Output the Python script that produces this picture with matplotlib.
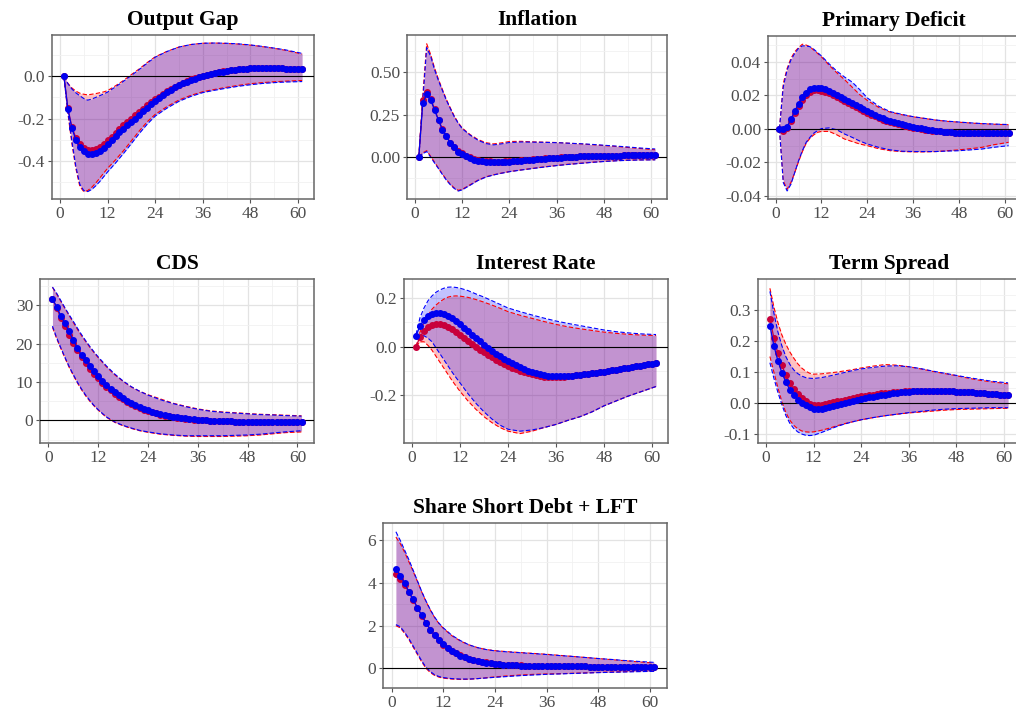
import matplotlib
matplotlib.use("Agg")
import matplotlib.pyplot as plt
from matplotlib.ticker import FixedLocator

plt.rcParams['font.family'] = ['Liberation Serif', 'DejaVu Serif']
plt.rcParams['axes.unicode_minus'] = False

months = list(range(1, 62))
band_months = [1, 2, 3, 4, 5, 6, 7, 8, 9, 10, 11, 12, 14, 16, 18, 20, 22, 24,
               27, 30, 33, 36, 39, 42, 45, 48, 51, 54, 57, 61]

# ---- Output Gap
gap_blue = [0, -0.155, -0.245, -0.300, -0.335, -0.355, -0.366, -0.367, -0.362, -0.352,
            -0.338, -0.318, -0.300, -0.282, -0.264, -0.247, -0.232, -0.218, -0.200, -0.183,
            -0.166, -0.149, -0.132, -0.116, -0.102, -0.089, -0.076, -0.064, -0.053, -0.043,
            -0.034, -0.026, -0.018, -0.011, -0.005, 0.000, 0.005, 0.010, 0.014, 0.018,
            0.022, 0.025, 0.028, 0.031, 0.033, 0.035, 0.036, 0.037, 0.038, 0.038,
            0.038, 0.038, 0.038, 0.037, 0.037, 0.037, 0.036, 0.036, 0.035, 0.035, 0.035]
gap_red = [0, -0.150, -0.240, -0.290, -0.320, -0.340, -0.350, -0.350, -0.345, -0.335,
           -0.320, -0.303, -0.285, -0.267, -0.249, -0.232, -0.216, -0.201, -0.185, -0.169,
           -0.153, -0.138, -0.123, -0.109, -0.096, -0.083, -0.071, -0.059, -0.049, -0.039,
           -0.030, -0.022, -0.014, -0.008, -0.002, 0.003, 0.008, 0.012, 0.016, 0.020,
           0.023, 0.026, 0.029, 0.031, 0.033, 0.035, 0.036, 0.037, 0.038, 0.038,
           0.038, 0.038, 0.038, 0.037, 0.037, 0.037, 0.036, 0.036, 0.035, 0.035, 0.035]
gap_red_hi = [0, -0.033, -0.055, -0.070, -0.080, -0.085, -0.088, -0.085, -0.082, -0.078,
              -0.074, -0.068, -0.045, -0.020, 0.008, 0.035, 0.065, 0.092, 0.118, 0.138,
              0.150, 0.156, 0.157, 0.155, 0.152, 0.147, 0.140, 0.132, 0.122, 0.105]
gap_blue_hi = [0, -0.035, -0.060, -0.078, -0.092, -0.105, -0.113, -0.108, -0.100, -0.092,
               -0.084, -0.075, -0.050, -0.024, 0.004, 0.032, 0.062, 0.090, 0.117, 0.138,
               0.150, 0.156, 0.157, 0.156, 0.153, 0.148, 0.141, 0.133, 0.124, 0.108]
gap_red_lo = [0, -0.175, -0.317, -0.435, -0.520, -0.545, -0.540, -0.525, -0.505, -0.482,
              -0.458, -0.435, -0.395, -0.352, -0.305, -0.258, -0.215, -0.180, -0.143, -0.112,
              -0.090, -0.073, -0.062, -0.052, -0.043, -0.035, -0.030, -0.026, -0.023, -0.020]
gap_blue_lo = [0, -0.165, -0.305, -0.425, -0.510, -0.540, -0.545, -0.535, -0.518, -0.498,
               -0.475, -0.452, -0.410, -0.365, -0.318, -0.270, -0.226, -0.188, -0.150, -0.118,
               -0.095, -0.077, -0.066, -0.056, -0.047, -0.040, -0.034, -0.030, -0.027, -0.025]

# ---- Inflation
inf_blue = [0, 0.318, 0.370, 0.337, 0.278, 0.216, 0.161, 0.122, 0.082, 0.057,
            0.033, 0.020, 0.004, -0.006, -0.016, -0.022, -0.025, -0.027, -0.029, -0.031,
            -0.031, -0.031, -0.029, -0.027, -0.025, -0.023, -0.021, -0.019, -0.018, -0.016,
            -0.014, -0.012, -0.010, -0.008, -0.006, -0.004, -0.003, -0.001, 0.000, 0.001,
            0.003, 0.004, 0.005, 0.006, 0.006, 0.007, 0.007, 0.008, 0.008, 0.009,
            0.009, 0.009, 0.010, 0.010, 0.010, 0.011, 0.011, 0.011, 0.012, 0.012, 0.012]
inf_red = [0, 0.335, 0.382, 0.345, 0.283, 0.220, 0.165, 0.125, 0.086, 0.060,
           0.037, 0.023, 0.008, -0.002, -0.011, -0.017, -0.021, -0.023, -0.025, -0.026,
           -0.026, -0.026, -0.025, -0.024, -0.022, -0.020, -0.018, -0.016, -0.015, -0.013,
           -0.011, -0.009, -0.008, -0.006, -0.005, -0.003, -0.002, -0.001, 0.000, 0.001,
           0.003, 0.004, 0.005, 0.006, 0.006, 0.007, 0.007, 0.008, 0.008, 0.009,
           0.009, 0.009, 0.010, 0.010, 0.010, 0.011, 0.011, 0.011, 0.012, 0.012, 0.012]
inf_red_hi = [0, 0.360, 0.668, 0.605, 0.525, 0.458, 0.398, 0.340, 0.290, 0.242,
              0.203, 0.172, 0.133, 0.104, 0.085, 0.078, 0.084, 0.092, 0.093, 0.090,
              0.088, 0.086, 0.082, 0.078, 0.073, 0.068, 0.063, 0.057, 0.051, 0.043]
inf_blue_hi = [0, 0.330, 0.645, 0.595, 0.515, 0.450, 0.392, 0.335, 0.286, 0.238,
               0.200, 0.168, 0.130, 0.100, 0.080, 0.072, 0.078, 0.086, 0.089, 0.088,
               0.087, 0.085, 0.082, 0.079, 0.075, 0.070, 0.065, 0.060, 0.054, 0.048]
inf_red_lo = [0, 0.025, 0.038, 0.005, -0.030, -0.065, -0.100, -0.133, -0.160, -0.182,
              -0.196, -0.190, -0.163, -0.136, -0.116, -0.104, -0.094, -0.085, -0.075, -0.066,
              -0.057, -0.049, -0.042, -0.036, -0.030, -0.025, -0.021, -0.018, -0.016, -0.015]
inf_blue_lo = [0, 0.020, 0.033, 0.000, -0.035, -0.068, -0.103, -0.136, -0.163, -0.185,
               -0.200, -0.193, -0.166, -0.138, -0.118, -0.105, -0.095, -0.086, -0.076, -0.067,
               -0.058, -0.050, -0.043, -0.037, -0.031, -0.026, -0.022, -0.019, -0.017, -0.016]

# ---- Primary Deficit
def_blue = [0, 0, 0.0014, 0.0057, 0.0107, 0.0149, 0.0188, 0.0216, 0.0236, 0.0244,
            0.0246, 0.0242, 0.0236, 0.0226, 0.0214, 0.0202, 0.0190, 0.0178, 0.0165, 0.0152,
            0.0140, 0.0129, 0.0118, 0.0107, 0.0095, 0.0084, 0.0073, 0.0064, 0.0056, 0.0048,
            0.0041, 0.0034, 0.0028, 0.0022, 0.0017, 0.0012, 0.0007, 0.0003, -0.0002, -0.0005,
            -0.0009, -0.0012, -0.0014, -0.0016, -0.0018, -0.0020, -0.0022, -0.0024, -0.0025, -0.0025,
            -0.0026, -0.0026, -0.0026, -0.0026, -0.0026, -0.0026, -0.0026, -0.0026, -0.0026, -0.0026, -0.0026]
def_red = [0, -0.0012, 0.0008, 0.0050, 0.0095, 0.0135, 0.0175, 0.0205, 0.0222, 0.0230,
           0.0232, 0.0229, 0.0223, 0.0214, 0.0202, 0.0190, 0.0178, 0.0166, 0.0153, 0.0140,
           0.0128, 0.0117, 0.0106, 0.0096, 0.0085, 0.0075, 0.0065, 0.0056, 0.0048, 0.0041,
           0.0034, 0.0028, 0.0022, 0.0017, 0.0012, 0.0008, 0.0004, 0.0000, -0.0004, -0.0007,
           -0.0010, -0.0012, -0.0014, -0.0016, -0.0018, -0.0020, -0.0022, -0.0024, -0.0025, -0.0025,
           -0.0026, -0.0026, -0.0026, -0.0026, -0.0026, -0.0026, -0.0026, -0.0026, -0.0026, -0.0026, -0.0026]
def_red_hi = [0, 0.027, 0.036, 0.042, 0.046, 0.0485, 0.0505, 0.050, 0.049, 0.047,
              0.045, 0.043, 0.038, 0.0335, 0.0295, 0.025, 0.0205, 0.017, 0.0128, 0.010,
              0.0085, 0.0072, 0.0062, 0.0052, 0.0045, 0.0040, 0.0035, 0.0031, 0.0028, 0.0025]
def_blue_hi = [0, 0.025, 0.035, 0.041, 0.045, 0.048, 0.0495, 0.0495, 0.049, 0.0475,
               0.0455, 0.0435, 0.0388, 0.0345, 0.031, 0.028, 0.0235, 0.0185, 0.0135, 0.0103,
               0.0087, 0.0073, 0.0063, 0.0053, 0.0046, 0.0041, 0.0036, 0.0032, 0.0029, 0.0026]
def_red_lo = [0, -0.031, -0.036, -0.032, -0.026, -0.0195, -0.0135, -0.0085, -0.0055, -0.0035,
              -0.002, -0.0015, -0.0015, -0.0035, -0.006, -0.0075, -0.009, -0.010, -0.0118, -0.013,
              -0.0135, -0.0137, -0.0137, -0.0135, -0.013, -0.0125, -0.0118, -0.011, -0.0095, -0.008]
def_blue_lo = [0, -0.032, -0.037, -0.033, -0.026, -0.019, -0.013, -0.008, -0.005, -0.0025,
               -0.001, 0.0002, 0.0006, -0.0005, -0.003, -0.005, -0.0072, -0.009, -0.011, -0.0125,
               -0.0133, -0.0135, -0.0135, -0.0135, -0.0132, -0.013, -0.0125, -0.012, -0.011, -0.010]

# ---- CDS
cds_blue = [31.7, 29.7, 27.3, 25.4, 23.2, 21.0, 18.9, 17.1, 15.7, 14.1,
            12.8, 11.5, 10.3, 9.2, 8.3, 7.4, 6.6, 5.8, 5.1, 4.5,
            4.0, 3.5, 3.0, 2.6, 2.3, 2.0, 1.65, 1.4, 1.2, 0.96,
            0.8, 0.65, 0.5, 0.38, 0.27, 0.17, 0.1, 0.03, -0.03, -0.1,
            -0.14, -0.18, -0.21, -0.26, -0.29, -0.31, -0.33, -0.35, -0.36, -0.36,
            -0.37, -0.37, -0.37, -0.37, -0.37, -0.37, -0.36, -0.36, -0.36, -0.35, -0.35]
cds_red = [31.8, 29.3, 26.8, 24.7, 22.4, 20.3, 18.3, 16.5, 15.0, 13.5,
           12.2, 11.0, 9.8, 8.8, 7.9, 7.0, 6.2, 5.5, 4.8, 4.2,
           3.7, 3.2, 2.8, 2.4, 2.1, 1.8, 1.5, 1.25, 1.05, 0.85,
           0.7, 0.55, 0.42, 0.3, 0.2, 0.1, 0.05, 0.0, -0.05, -0.1,
           -0.14, -0.18, -0.21, -0.26, -0.29, -0.31, -0.33, -0.35, -0.36, -0.36,
           -0.37, -0.37, -0.37, -0.37, -0.37, -0.37, -0.36, -0.36, -0.36, -0.35, -0.35]
cds_red_hi = [34.7, 33.0, 31.1, 29.2, 27.4, 25.6, 23.8, 22.1, 20.6, 19.1,
              17.7, 16.4, 14.0, 11.9, 10.2, 8.7, 7.6, 6.7, 5.6, 4.5,
              3.7, 3.0, 2.5, 2.2, 2.0, 1.8, 1.6, 1.5, 1.35, 1.2]
cds_blue_hi = [34.8, 33.2, 31.3, 29.4, 27.6, 25.9, 24.1, 22.4, 20.8, 19.3,
               17.9, 16.6, 14.2, 12.1, 10.3, 8.8, 7.6, 6.6, 5.4, 4.4,
               3.6, 2.9, 2.4, 2.1, 1.9, 1.7, 1.5, 1.4, 1.25, 1.1]
cds_red_lo = [24.3, 21.4, 18.8, 16.3, 13.9, 11.8, 9.8, 8.0, 6.4, 5.0,
              3.8, 2.7, 0.8, -0.5, -1.4, -2.1, -2.7, -3.1, -3.6, -3.9,
              -4.1, -4.2, -4.2, -4.2, -4.1, -4.0, -3.8, -3.5, -3.2, -3.0]
cds_blue_lo = [24.6, 21.6, 19.0, 16.5, 14.1, 12.0, 10.0, 8.2, 6.6, 5.2,
               3.9, 2.8, 0.9, -0.4, -1.3, -2.0, -2.6, -3.0, -3.5, -3.8,
               -4.0, -4.0, -4.0, -4.0, -3.9, -3.8, -3.6, -3.3, -3.0, -2.7]

# ---- Interest Rate
ir_blue = [0.045, 0.086, 0.110, 0.125, 0.135, 0.140, 0.140, 0.135, 0.127, 0.117,
           0.105, 0.092, 0.078, 0.064, 0.050, 0.036, 0.022, 0.008, -0.005, -0.018,
           -0.029, -0.040, -0.050, -0.060, -0.069, -0.077, -0.085, -0.092, -0.099, -0.105,
           -0.110, -0.114, -0.118, -0.120, -0.122, -0.123, -0.123, -0.123, -0.122, -0.121,
           -0.119, -0.117, -0.115, -0.113, -0.110, -0.108, -0.105, -0.103, -0.100, -0.098,
           -0.095, -0.092, -0.090, -0.087, -0.084, -0.082, -0.079, -0.076, -0.073, -0.071, -0.068]
ir_red = [0.0, 0.040, 0.065, 0.080, 0.090, 0.095, 0.095, 0.090, 0.082, 0.072,
          0.060, 0.048, 0.035, 0.022, 0.010, -0.002, -0.013, -0.024, -0.035, -0.045,
          -0.054, -0.063, -0.072, -0.080, -0.087, -0.094, -0.100, -0.105, -0.110, -0.115,
          -0.118, -0.121, -0.124, -0.125, -0.126, -0.126, -0.125, -0.124, -0.123, -0.121,
          -0.119, -0.117, -0.115, -0.113, -0.110, -0.108, -0.105, -0.103, -0.100, -0.098,
          -0.095, -0.092, -0.090, -0.087, -0.084, -0.082, -0.079, -0.076, -0.073, -0.071, -0.068]
ir_red_hi = [0.0, 0.060, 0.100, 0.130, 0.155, 0.172, 0.186, 0.197, 0.205, 0.209,
             0.210, 0.209, 0.204, 0.195, 0.184, 0.172, 0.159, 0.145, 0.130, 0.117,
             0.104, 0.092, 0.082, 0.074, 0.067, 0.060, 0.055, 0.051, 0.048, 0.046]
ir_blue_hi = [0.050, 0.120, 0.160, 0.190, 0.210, 0.225, 0.235, 0.242, 0.246, 0.247,
              0.245, 0.242, 0.232, 0.218, 0.205, 0.190, 0.175, 0.160, 0.145, 0.131,
              0.118, 0.106, 0.096, 0.087, 0.078, 0.069, 0.062, 0.057, 0.053, 0.050]
ir_red_lo = [0.0, 0.020, 0.020, 0.005, -0.015, -0.040, -0.065, -0.090, -0.115, -0.140,
             -0.163, -0.185, -0.225, -0.260, -0.290, -0.315, -0.335, -0.350, -0.360, -0.350,
             -0.335, -0.322, -0.305, -0.290, -0.270, -0.245, -0.225, -0.205, -0.188, -0.165]
ir_blue_lo = [0.045, 0.045, 0.045, 0.035, 0.020, -0.005, -0.030, -0.055, -0.080, -0.105,
              -0.128, -0.150, -0.195, -0.235, -0.270, -0.300, -0.325, -0.342, -0.350, -0.345,
              -0.335, -0.322, -0.305, -0.290, -0.270, -0.245, -0.225, -0.205, -0.188, -0.165]

# ---- Term Spread
ts_blue = [0.250, 0.185, 0.137, 0.098, 0.068, 0.043, 0.025, 0.010, 0.000, -0.008,
           -0.014, -0.018, -0.019, -0.018, -0.016, -0.013, -0.010, -0.006, -0.003, 0.000,
           0.003, 0.006, 0.009, 0.012, 0.015, 0.018, 0.020, 0.023, 0.025, 0.027,
           0.029, 0.031, 0.033, 0.034, 0.036, 0.037, 0.038, 0.038, 0.039, 0.039,
           0.040, 0.040, 0.040, 0.039, 0.039, 0.038, 0.038, 0.037, 0.036, 0.036,
           0.035, 0.034, 0.033, 0.032, 0.031, 0.030, 0.029, 0.028, 0.027, 0.026, 0.025]
ts_red = [0.272, 0.210, 0.160, 0.122, 0.090, 0.065, 0.044, 0.028, 0.015, 0.005,
          -0.002, -0.006, -0.007, -0.006, -0.004, -0.001, 0.002, 0.005, 0.008, 0.011,
          0.014, 0.016, 0.019, 0.021, 0.023, 0.025, 0.027, 0.029, 0.031, 0.032,
          0.033, 0.035, 0.036, 0.037, 0.038, 0.039, 0.039, 0.040, 0.040, 0.040,
          0.040, 0.040, 0.040, 0.039, 0.039, 0.038, 0.038, 0.037, 0.036, 0.036,
          0.035, 0.034, 0.033, 0.032, 0.031, 0.030, 0.029, 0.028, 0.027, 0.026, 0.025]
ts_red_hi = [0.370, 0.310, 0.260, 0.220, 0.190, 0.165, 0.145, 0.127, 0.113, 0.103,
             0.096, 0.093, 0.094, 0.097, 0.100, 0.104, 0.108, 0.113, 0.119, 0.124,
             0.122, 0.117, 0.110, 0.102, 0.095, 0.088, 0.080, 0.073, 0.068, 0.062]
ts_blue_hi = [0.360, 0.290, 0.230, 0.185, 0.150, 0.125, 0.107, 0.095, 0.087, 0.082,
              0.080, 0.079, 0.082, 0.087, 0.093, 0.099, 0.105, 0.110, 0.115, 0.119,
              0.120, 0.117, 0.111, 0.103, 0.096, 0.089, 0.082, 0.076, 0.070, 0.065]
ts_red_lo = [0.150, 0.100, 0.050, 0.005, -0.030, -0.055, -0.072, -0.083, -0.090, -0.093,
             -0.094, -0.093, -0.088, -0.081, -0.073, -0.066, -0.060, -0.054, -0.047, -0.041,
             -0.036, -0.032, -0.029, -0.026, -0.023, -0.021, -0.020, -0.019, -0.018, -0.017]
ts_blue_lo = [0.130, 0.080, 0.035, -0.005, -0.040, -0.065, -0.082, -0.093, -0.100, -0.104,
              -0.105, -0.104, -0.095, -0.085, -0.075, -0.067, -0.060, -0.054, -0.047, -0.041,
              -0.036, -0.031, -0.027, -0.023, -0.020, -0.018, -0.017, -0.016, -0.015, -0.015]

# ---- Share Short Debt + LFT
sh_blue = [4.66, 4.35, 4.00, 3.60, 3.23, 2.85, 2.48, 2.13, 1.82, 1.55,
           1.32, 1.12, 0.96, 0.82, 0.70, 0.60, 0.52, 0.45, 0.40, 0.35,
           0.31, 0.27, 0.24, 0.21, 0.19, 0.17, 0.16, 0.15, 0.14, 0.13,
           0.125, 0.12, 0.115, 0.11, 0.105, 0.10, 0.10, 0.10, 0.098, 0.096,
           0.094, 0.092, 0.09, 0.09, 0.088, 0.087, 0.086, 0.085, 0.085, 0.084,
           0.083, 0.083, 0.082, 0.082, 0.081, 0.081, 0.08, 0.08, 0.08, 0.08, 0.08]
sh_red = [4.42, 4.20, 3.92, 3.57, 3.21, 2.84, 2.47, 2.12, 1.81, 1.54,
          1.31, 1.11, 0.95, 0.82, 0.70, 0.61, 0.53, 0.46, 0.41, 0.36,
          0.32, 0.28, 0.25, 0.22, 0.20, 0.18, 0.17, 0.16, 0.15, 0.14,
          0.13, 0.125, 0.12, 0.115, 0.11, 0.105, 0.10, 0.10, 0.098, 0.096,
          0.094, 0.092, 0.09, 0.09, 0.088, 0.087, 0.086, 0.085, 0.085, 0.084,
          0.083, 0.083, 0.082, 0.082, 0.081, 0.081, 0.08, 0.08, 0.08, 0.08, 0.08]
sh_red_hi = [6.15, 5.85, 5.45, 5.00, 4.55, 4.07, 3.58, 3.13, 2.73, 2.38,
             2.10, 1.88, 1.53, 1.28, 1.10, 0.97, 0.88, 0.83, 0.78, 0.74,
             0.70, 0.66, 0.61, 0.56, 0.51, 0.46, 0.41, 0.36, 0.31, 0.25]
sh_blue_hi = [6.40, 6.00, 5.55, 5.10, 4.60, 4.10, 3.60, 3.15, 2.75, 2.40,
              2.12, 1.90, 1.55, 1.30, 1.10, 0.97, 0.88, 0.82, 0.77, 0.73,
              0.69, 0.65, 0.60, 0.56, 0.51, 0.46, 0.42, 0.37, 0.33, 0.28]
sh_red_lo = [2.00, 1.90, 1.65, 1.35, 1.00, 0.65, 0.30, 0.00, -0.20, -0.33,
             -0.41, -0.46, -0.50, -0.52, -0.51, -0.48, -0.44, -0.40, -0.35, -0.31,
             -0.28, -0.26, -0.25, -0.23, -0.21, -0.19, -0.17, -0.155, -0.14, -0.13]
sh_blue_lo = [2.05, 1.95, 1.70, 1.40, 1.05, 0.70, 0.35, 0.05, -0.15, -0.30,
              -0.38, -0.43, -0.48, -0.50, -0.50, -0.48, -0.45, -0.42, -0.38, -0.34,
              -0.31, -0.28, -0.26, -0.24, -0.22, -0.20, -0.185, -0.17, -0.155, -0.14]

titles = ["Output Gap", "Inflation", "Primary Deficit", "CDS", "Interest Rate",
          "Term Spread", "Share Short Debt + LFT"]
x_ticks = [0, 12, 24, 36, 48, 60]
y_ticks = [[-0.4, -0.2, 0.0], [0.0, 0.25, 0.5], [-0.04, -0.02, 0.0, 0.02, 0.04],
           [0, 10, 20, 30], [-0.2, 0.0, 0.2], [-0.1, 0.0, 0.1, 0.2, 0.3], [0, 2, 4, 6]]
y_labels = [["-0.4", "-0.2", "0.0"], ["0.00", "0.25", "0.50"],
            ["-0.04", "-0.02", "0.00", "0.02", "0.04"], ["0", "10", "20", "30"],
            ["-0.2", "0.0", "0.2"], ["-0.1", "0.0", "0.1", "0.2", "0.3"], ["0", "2", "4", "6"]]
y_lims = [(-0.58, 0.195), (-0.247, 0.72), (-0.0418, 0.0554), (-5.9, 36.9),
          (-0.399, 0.28), (-0.129, 0.40), (-0.92, 6.81)]

series = [
    (gap_red, gap_blue, gap_red_lo, gap_red_hi, gap_blue_lo, gap_blue_hi),
    (inf_red, inf_blue, inf_red_lo, inf_red_hi, inf_blue_lo, inf_blue_hi),
    (def_red, def_blue, def_red_lo, def_red_hi, def_blue_lo, def_blue_hi),
    (cds_red, cds_blue, cds_red_lo, cds_red_hi, cds_blue_lo, cds_blue_hi),
    (ir_red, ir_blue, ir_red_lo, ir_red_hi, ir_blue_lo, ir_blue_hi),
    (ts_red, ts_blue, ts_red_lo, ts_red_hi, ts_blue_lo, ts_blue_hi),
    (sh_red, sh_blue, sh_red_lo, sh_red_hi, sh_blue_lo, sh_blue_hi),
]

# panel boxes in pixels: left, right, top, bottom
W, H = 1016, 711
boxes = [(52, 314, 35, 199), (407, 667, 35, 199), (768, 1020, 36, 199),
         (40, 314, 279, 443), (404, 668, 279, 443), (758, 1020, 279, 443),
         (383, 667, 523, 688)]

RED = "#C8003C"
BLUE = "#0000F0"

fig = plt.figure(figsize=(W / 100, H / 100), dpi=100)

for i in range(7):
    l, r, t, b = boxes[i]
    ax = fig.add_axes([l / W, 1 - b / H, (r - l) / W, (b - t) / H])
    red, blue, rlo, rhi, blo, bhi = series[i]

    ax.fill_between(band_months, rlo, rhi, color="red", alpha=0.24, lw=0, zorder=2)
    ax.fill_between(band_months, blo, bhi, color="blue", alpha=0.24, lw=0, zorder=2)
    for lo, hi, c in [(rlo, rhi, "red"), (blo, bhi, "blue")]:
        ax.plot(band_months, lo, color=c, lw=0.8, ls=(0, (4, 2)), zorder=3)
        ax.plot(band_months, hi, color=c, lw=0.8, ls=(0, (4, 2)), zorder=3)

    ax.axhline(0, color="black", lw=0.8, zorder=4)
    ax.plot(months, red, color=RED, lw=0.9, marker="o", ms=4.0, mec=RED, zorder=5)
    ax.plot(months, blue, color=BLUE, lw=0.9, marker="o", ms=4.0, mec=BLUE, zorder=6)

    ax.set_xlim(-2, 64)
    ax.set_ylim(*y_lims[i])
    ax.xaxis.set_major_locator(FixedLocator(x_ticks))
    ax.xaxis.set_minor_locator(FixedLocator([6, 18, 30, 42, 54]))
    ax.set_yticks(y_ticks[i])
    ax.set_yticklabels(y_labels[i])
    yt = y_ticks[i]
    step = yt[1] - yt[0]
    ax.yaxis.set_minor_locator(FixedLocator([yt[0] - step / 2] + [v + step / 2 for v in yt]))

    ax.grid(which="major", color="#E3E3E3", lw=0.9, zorder=0)
    ax.grid(which="minor", color="#F1F1F1", lw=0.6, zorder=0)
    ax.set_axisbelow(True)
    ax.tick_params(which="major", length=3, width=0.8, color="#555555",
                   labelsize=12.5, labelcolor="#4D4D4D", pad=2)
    ax.tick_params(which="minor", length=0)
    for sp in ax.spines.values():
        sp.set_color("#666666")
        sp.set_linewidth(1.1)

    ax.set_title(titles[i], fontsize=15.5, fontweight="bold", pad=7)

fig.savefig("out.png", dpi=100)
